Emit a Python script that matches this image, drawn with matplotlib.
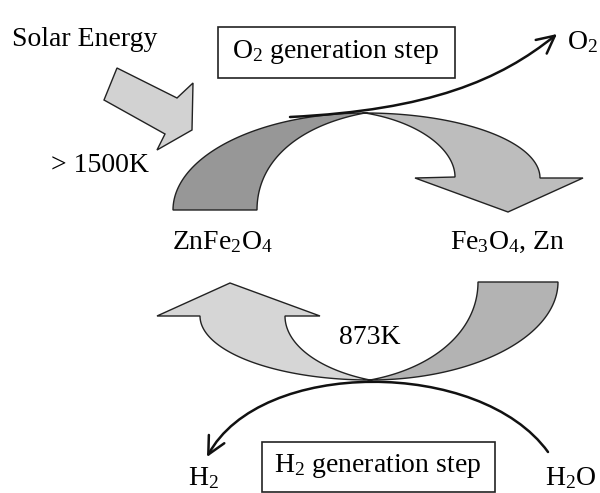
import numpy as np
import matplotlib
matplotlib.use('Agg')
import matplotlib.pyplot as plt
from matplotlib.patches import Polygon, Rectangle, FancyArrowPatch
from matplotlib.path import Path

plt.rcParams['font.family'] = ['Liberation Serif', 'DejaVu Serif']
plt.rcParams['mathtext.fontset'] = 'custom'
plt.rcParams['mathtext.rm'] = 'Liberation Serif'

# labels of the cycle
step_labels = [r'$\mathregular{O_2}$ generation step', r'$\mathregular{H_2}$ generation step']
species = [r'$\mathregular{ZnFe_2O_4}$', r'$\mathregular{Fe_3O_4}$, Zn']
gases = [r'$\mathregular{O_2}$', r'$\mathregular{H_2}$', r'$\mathregular{H_2O}$']
temps = ['> 1500K', '873K']
source = 'Solar Energy'

col_dark = '#979797'
col_mid = '#b3b3b3'
col_light = '#bdbdbd'
col_pale = '#d6d6d6'

fig = plt.figure(figsize=(6, 4.93), dpi=100)
ax = fig.add_axes([0, 0, 1, 1])
ax.set_xlim(0, 600)
ax.set_ylim(493, 0)
ax.axis('off')


def arc(cx, cy, rx, ry, t0, t1, n=60):
    t = np.radians(np.linspace(t0, t1, n))
    return np.column_stack([cx + rx * np.cos(t), cy - ry * np.sin(t)])


def bez(p0, p1, p2, p3, n=60):
    t = np.linspace(0, 1, n)[:, None]
    p0, p1, p2, p3 = map(np.array, (p0, p1, p2, p3))
    return (1 - t) ** 3 * p0 + 3 * t * (1 - t) ** 2 * p1 + 3 * t ** 2 * (1 - t) * p2 + t ** 3 * p3


def shape(pts, fc):
    ax.add_patch(Polygon(pts, closed=True, fc=fc, ec='#222222', lw=1.0, joinstyle='miter'))


# upper step: dark crescent on the left, arrow to the right
shape(np.vstack([arc(365, 210, 192, 97, 180, 90),
                 bez((365, 113), (300, 125), (257, 160), (257, 210))]), col_dark)
shape(np.vstack([arc(365, 178, 175, 65, 90, 0),
                 [[583, 178], [508, 212], [415, 178]],
                 bez((455, 177), (455, 150), (420, 122), (365, 113))]), col_light)

# lower step: mid crescent on the right, arrow to the left
shape(np.vstack([arc(370, 282, 188, 98, 0, -90),
                 bez((370, 380), (435, 368), (478, 330), (478, 282))]), col_mid)
shape(np.vstack([arc(370, 316, 170, 64, -90, -180),
                 [[157, 316], [230, 283], [320, 316]],
                 bez((285, 316), (285, 345), (320, 370), (370, 380))]), col_pale)

# solar energy block arrow
shape([[117, 68], [177, 98], [193, 83], [192, 130], [157, 150], [165, 134], [104, 100]], '#d2d2d2')

# gas release curves
o2_path = Path([(290, 117), (430, 110), (500, 80), (557, 34)],
               [Path.MOVETO, Path.CURVE4, Path.CURVE4, Path.CURVE4])
ax.add_patch(FancyArrowPatch(path=o2_path, arrowstyle='->,head_length=0.9,head_width=0.45',
                             mutation_scale=14, lw=1.8, color='#111111'))
h2_path = Path([(548, 452), (480, 358), (260, 358), (207, 457)],
               [Path.MOVETO, Path.CURVE4, Path.CURVE4, Path.CURVE4])
ax.add_patch(FancyArrowPatch(path=h2_path, arrowstyle='->,head_length=0.9,head_width=0.45',
                             mutation_scale=14, lw=1.8, color='#111111'))

# step boxes
ax.add_patch(Rectangle((218, 27), 237, 51, fill=False, ec='#222222', lw=1.2))
ax.add_patch(Rectangle((262, 442), 233, 50, fill=False, ec='#222222', lw=1.2))

fs = 20
ax.text(336, 52, step_labels[0], fontsize=fs, ha='center', va='center')
ax.text(378, 466, step_labels[1], fontsize=fs, ha='center', va='center')
ax.text(12, 40, source, fontsize=fs, ha='left', va='center')
ax.text(100, 166, temps[0], fontsize=fs, ha='center', va='center')
ax.text(370, 338, temps[1], fontsize=fs, ha='center', va='center')
ax.text(222, 242, species[0], fontsize=fs, ha='center', va='center')
ax.text(508, 242, species[1], fontsize=fs, ha='center', va='center')
ax.text(567, 42, gases[0], fontsize=fs, ha='left', va='center')
ax.text(204, 478, gases[1], fontsize=fs, ha='center', va='center')
ax.text(571, 478, gases[2], fontsize=fs, ha='center', va='center')

fig.savefig('out.png', dpi=100, facecolor='white')
